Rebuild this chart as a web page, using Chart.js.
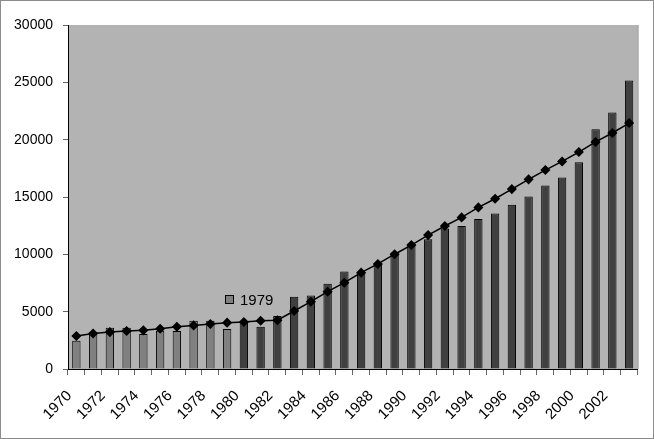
<!DOCTYPE html>
<html>
<head>
<meta charset="utf-8">
<script src="https://cdn.jsdelivr.net/npm/chart.js@4/dist/chart.umd.min.js"></script>
<style>
  body { margin: 0; background: #fff; }
  #wrap { width: 654px; height: 439px; }
</style>
</head>
<body>
<div id="wrap"><canvas id="chart" width="654" height="439"></canvas></div>
<script>
// years on the x axis
const years = [];
for (let y = 1970; y <= 2003; y++) years.push(String(y));

// bar values
const barValues = [
  2470, 3200, 3600, 3600, 3050, 3340, 3310, 4210, 4210, 3490,
  4130, 3690, 4630, 6300, 6420, 7440, 8500, 8450, 9270, 10170,
  10860, 11320, 12250, 12470, 13080, 13570, 14330, 15050, 16010, 16710,
  18020, 20900, 22380, 25150
];

// line values (diamond markers)
const lineValues = [
  2880, 3100, 3220, 3310, 3370, 3510, 3690, 3800, 3920, 4040,
  4100, 4210, 4250, 5060, 5870, 6740, 7530, 8400, 9160, 10010,
  10810, 11680, 12470, 13220, 14090, 14850, 15690, 16540, 17350, 18100,
  18920, 19800, 20580, 21450
];

const yTicks = [0, 5000, 10000, 15000, 20000, 25000, 30000];
const legendLabel = '1979';

const FONT = 'Liberation Sans, Arial, sans-serif';
const barColors = years.map(y => Number(y) < 1980 ? '#808080' : '#404040');

// plot background, outer frame, single legend entry
const decor = {
  id: 'decor',
  beforeDraw(chart) {
    const { ctx, chartArea: a } = chart;
    ctx.save();
    ctx.fillStyle = '#b3b3b3';
    ctx.fillRect(a.left, a.top, a.right - a.left, a.bottom - a.top);
    ctx.restore();
  },
  afterDraw(chart) {
    const { ctx, chartArea: a } = chart;
    ctx.save();
    // right edge of the plot
    ctx.strokeStyle = '#808080';
    ctx.lineWidth = 1;
    ctx.beginPath();
    ctx.moveTo(a.right + 0.5, a.top);
    ctx.lineTo(a.right + 0.5, a.bottom);
    ctx.stroke();
    // outer frame
    ctx.strokeStyle = '#8c8c8c';
    ctx.strokeRect(0.5, 0.5, chart.width - 1, chart.height - 1);
    // legend
    const lx = a.left + 157, ly = a.top + 270;
    ctx.fillStyle = '#808080';
    ctx.fillRect(lx, ly, 9, 9);
    ctx.strokeStyle = '#000';
    ctx.strokeRect(lx + 0.5, ly + 0.5, 8, 8);
    ctx.fillStyle = '#000';
    ctx.font = '15px ' + FONT;
    ctx.textBaseline = 'alphabetic';
    ctx.fillText(legendLabel, lx + 15, ly + 10);
    ctx.restore();
  }
};

new Chart(document.getElementById('chart'), {
  data: {
    labels: years,
    datasets: [
      {
        type: 'line',
        data: lineValues,
        borderColor: '#000',
        borderWidth: 1.5,
        pointStyle: 'rectRot',
        pointRadius: 4,
        pointBackgroundColor: '#000',
        pointBorderColor: '#000',
        tension: 0,
        order: 0
      },
      {
        type: 'bar',
        data: barValues,
        backgroundColor: barColors,
        borderColor: '#000',
        borderWidth: 1,
        categoryPercentage: 1,
        barPercentage: 0.5,
        order: 1
      }
    ]
  },
  options: {
    responsive: false,
    animation: false,
    layout: { padding: { left: 0, top: 25, right: 12, bottom: 0 } },
    plugins: { legend: { display: false }, tooltip: { enabled: false } },
    scales: {
      x: {
        offset: true,
        afterFit(s) { s.height = 70; },
        border: { color: '#000', width: 1 },
        grid: { offset: true, drawOnChartArea: false, drawTicks: true, tickLength: 6, color: '#666' },
        ticks: {
          autoSkip: false,
          maxRotation: 45,
          minRotation: 45,
          padding: 12,
          labelOffset: -7,
          color: '#000',
          font: { family: FONT, size: 15 },
          callback(v, i) { return i % 2 === 0 ? years[i] : ''; }
        }
      },
      y: {
        min: 0,
        max: 30000,
        afterFit(s) { s.width = 68; },
        afterBuildTicks(s) { s.ticks = yTicks.map(v => ({ value: v })); },
        border: { color: '#000', width: 1 },
        grid: { drawOnChartArea: false, drawTicks: true, tickLength: 5, color: '#666' },
        ticks: {
          padding: 10,
          color: '#000',
          font: { family: FONT, size: 14 },
          callback(v) { return String(v); }
        }
      }
    }
  },
  plugins: [decor]
});
</script>
</body>
</html>
